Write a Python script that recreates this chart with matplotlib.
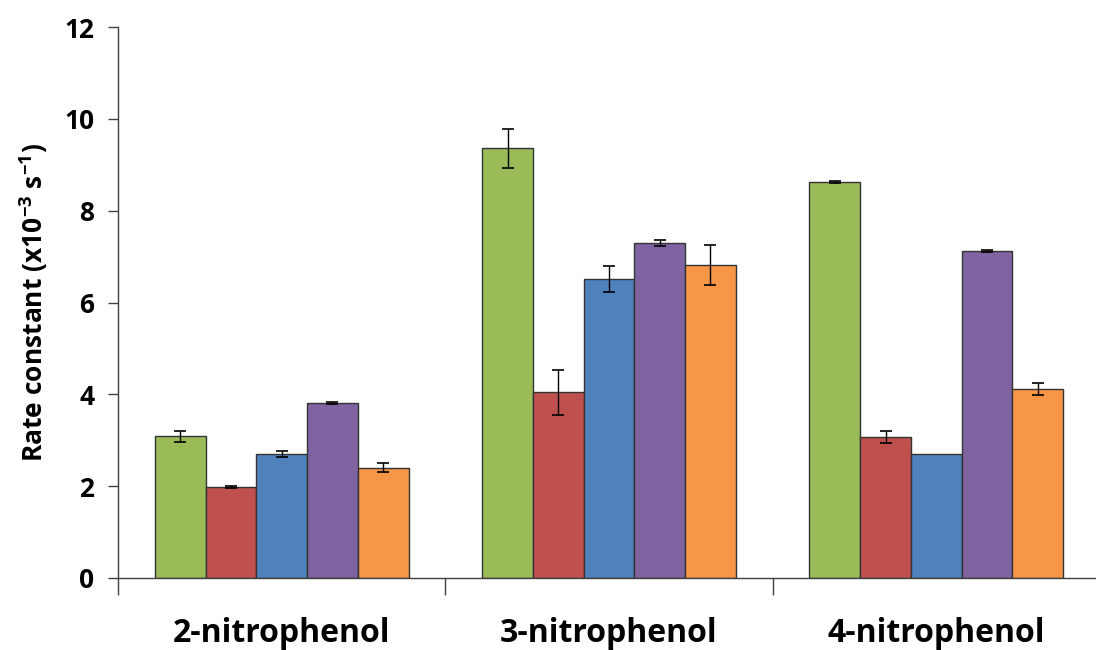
import matplotlib
matplotlib.use("Agg")
import matplotlib.pyplot as plt
import numpy as np

plt.rcParams['font.family'] = ['Open Sans', 'DejaVu Sans']
plt.rcParams['mathtext.default'] = 'regular'

categories = ['2-nitrophenol', '3-nitrophenol', '4-nitrophenol']
series_colors = ['#9BBB59', '#C0504D', '#4F81BD', '#8064A2', '#F79646']
values = [
    [3.09, 1.98, 2.70, 3.82, 2.40],   # 2-nitrophenol
    [9.36, 4.05, 6.51, 7.30, 6.82],   # 3-nitrophenol
    [8.63, 3.08, 2.69, 7.12, 4.11],   # 4-nitrophenol
]
errors = [
    [0.12, 0.02, 0.06, 0.02, 0.095],
    [0.42, 0.49, 0.29, 0.06, 0.44],
    [0.02, 0.13, 0.0, 0.02, 0.13],
]
yticks = [0, 2, 4, 6, 8, 10, 12]

fig = plt.figure(figsize=(10.96, 6.5), dpi=100)
ax = fig.add_axes([118/1096, 1-578/650, 982/1096, (578-27)/650])

vals = np.array(values)
errs = np.array(errors)
n = vals.shape[1]
width = 0.155
x = np.arange(len(categories))
for i in range(n):
    pos = x + (i - (n - 1) / 2) * width
    ax.bar(pos, vals[:, i], width, color=series_colors[i], edgecolor='#333333',
           linewidth=1.0, zorder=2)
    m = errs[:, i] > 0
    ax.errorbar(pos[m], vals[m, i], yerr=errs[m, i], fmt='none', ecolor='black',
                elinewidth=1.0, capsize=4.5, capthick=1.2, zorder=3)

ax.set_xlim(-0.5, len(categories) - 0.5)
ax.set_ylim(0, 12)
ax.set_yticks(yticks)
ax.set_yticklabels([str(t) for t in yticks], fontsize=19, fontweight='bold')
ax.tick_params(axis='y', direction='out', length=7, width=1, color='#404040', pad=10)
ax.set_xticks(np.arange(-0.5, len(categories), 1.0))
ax.set_xticklabels([])
ax.tick_params(axis='x', direction='out', length=12, width=1, color='#404040')
for i, c in enumerate(categories):
    ax.text(i, -0.07, c, transform=ax.get_xaxis_transform(), ha='center', va='top',
            fontsize=23, fontweight='bold')

for s in ['top', 'right']:
    ax.spines[s].set_visible(False)
for s in ['left', 'bottom']:
    ax.spines[s].set_color('#404040')
    ax.spines[s].set_linewidth(1.0)

ax.set_ylabel('Rate constant (x10$^{-3}$ s$^{-1}$)', fontsize=19, fontweight='bold', labelpad=10)

fig.savefig('out.png', dpi=100)
